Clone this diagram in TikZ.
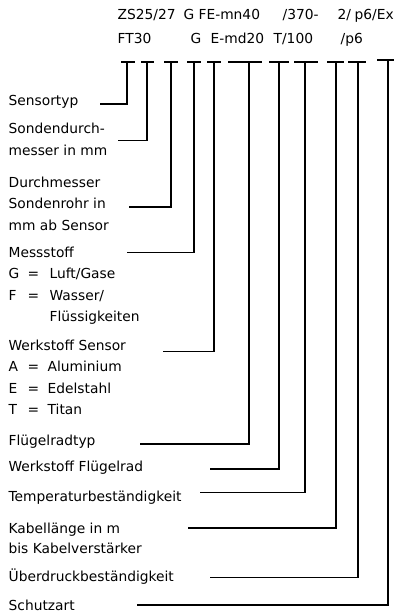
\documentclass[tikz,border=0pt]{standalone}
\usepackage{fontspec}
\setmainfont{DejaVu Sans}
\begin{document}
\begin{tikzpicture}[x=1pt,y=-1pt,line width=1.3pt,
  txt/.style={anchor=base west,inner sep=0pt,font=\fontsize{13.8}{16}\selectfont}]
\useasboundingbox (0,0) rectangle (396,614);
% Typenschluessel oben
\node[txt] (zs) at (117,19.5) {ZS25/27};
\node[txt] (ga) at (183,19.5) {G};
\node[txt] (fe) at (198,19.5) {FE-mn40};
\node[txt] (tb) at (282,19.5) {/370-};
\node[txt] (kl) at (337,19.5) {2/};
\node[txt] (ex) at (354,19.5) {p6/Ex};
\node[txt] (ft) at (117,43) {FT30};
\node[txt] (gb) at (190,43) {G};
\node[txt] (ed) at (210,43) {E-md20};
\node[txt] (ti) at (273,43) {T/100};
\node[txt] (pb) at (340,43) {/p6};
% Beschriftungen
\node[txt] (typ) at (8,105) {Sensortyp};
\node[txt] (sd) at (8,133) {Sondendurch-};
\node[txt] (sdb) at (8,155) {messer in mm};
\node[txt] (dm) at (8,187) {Durchmesser};
\node[txt] (dmb) at (8,208) {Sondenrohr in};
\node[txt] (dmc) at (8,230) {mm ab Sensor};
\node[txt] (ms) at (8,257) {Messstoff};
\node[txt] at (8,278.5) {G};
\node[txt] at (27,278.5) {=};
\node[txt] at (49,278.5) {Luft/Gase};
\node[txt] at (8,300) {F};
\node[txt] at (27,300) {=};
\node[txt] at (49,300) {Wasser/};
\node[txt] at (49,321.5) {Flüssigkeiten};
\node[txt] (ws) at (8,350) {Werkstoff Sensor};
\node[txt] at (8,371.5) {A};
\node[txt] at (27,371.5) {=};
\node[txt] at (47,371.5) {Aluminium};
\node[txt] at (8,393) {E};
\node[txt] at (27,393) {=};
\node[txt] at (47,393) {Edelstahl};
\node[txt] at (8,414.5) {T};
\node[txt] at (27,414.5) {=};
\node[txt] at (47,414.5) {Titan};
\node[txt] (fr) at (8,445) {Flügelradtyp};
\node[txt] (wf) at (8,471.5) {Werkstoff Flügelrad};
\node[txt] (tp) at (8,501) {Temperaturbeständigkeit};
\node[txt] (kb) at (8,533) {Kabellänge in m};
\node[txt] (kbb) at (8,553) {bis Kabelverstärker};
\node[txt] (ud) at (8,581.5) {Überdruckbeständigkeit};
\node[txt] (sa) at (8,610) {Schutzart};
% T-Balken
\draw (121,62) -- (135,62);
\draw (141,62) -- (154,62);
\draw (164,62) -- (178,62);
\draw (187,62) -- (201,62);
\draw (207,62) -- (221,62);
\draw (228,62) -- (262,62);
\draw (269,62) -- (289,62);
\draw (294,62) -- (318,62);
\draw (327,62) -- (344,62);
\draw (348,62) -- (366,62);
\draw (377,60) -- (394,60);
\coordinate (t1) at (127,62);
\coordinate (t2) at (147,62);
\coordinate (t3) at (171,62);
\coordinate (t4) at (194,62);
\coordinate (t5) at (214,62);
\coordinate (t6) at (249,62);
\coordinate (t7) at (279,62);
\coordinate (t8) at (305,62);
\coordinate (t9) at (336,62);
\coordinate (t10) at (358,62);
\coordinate (t11) at (388,60);
% Linien
\coordinate (s1) at (100,104);
\coordinate (s2) at (118,140.7);
\coordinate (s3) at (129,207);
\coordinate (s4) at (127,252.7);
\coordinate (s5) at (163,351.7);
\coordinate (s6) at (140,444);
\coordinate (s7) at (210,469);
\coordinate (s8) at (200,492.7);
\coordinate (s9) at (188,528);
\coordinate (s10) at (210,577.7);
\coordinate (s11) at (137,605);
\draw (s1) -| (t1);
\draw (s2) -| (t2);
\draw (s3) -| (t3);
\draw (s4) -| (t4);
\draw (s5) -| (t5);
\draw (s6) -| (t6);
\draw (s7) -| (t7);
\draw (s8) -| (t8);
\draw (s9) -| (t9);
\draw (s10) -| (t10);
\draw (s11) -| (t11);
\end{tikzpicture}
\end{document}
